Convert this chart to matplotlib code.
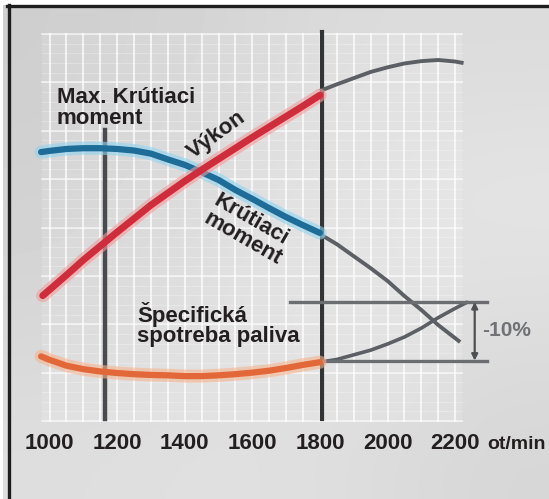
import numpy as np
import matplotlib
matplotlib.use("Agg")
import matplotlib.pyplot as plt
from matplotlib.lines import Line2D
from matplotlib.patches import Rectangle

# otacky (ot/min) a relativne hodnoty (0-100 = vyska mriezky)
rpm_a = [975, 1000, 1050, 1100, 1150, 1200, 1250, 1300, 1350, 1400, 1450,
         1500, 1550, 1600, 1650, 1700, 1750, 1800]
torque = [69.5, 69.8, 70.3, 70.5, 70.5, 70.3, 69.9, 69.1, 67.6, 66.2, 64.3,
          62.3, 59.7, 57.4, 55.0, 52.7, 50.6, 48.6]
power_rpm = [980, 1000, 1050, 1100, 1150, 1200, 1250, 1300, 1350, 1400, 1450,
             1500, 1550, 1600, 1650, 1700, 1750, 1800]
power = [32.4, 33.9, 37.7, 41.6, 45.2, 48.8, 52.3, 55.8, 58.9, 62.0, 64.9,
         67.7, 70.5, 73.3, 76.0, 78.7, 81.4, 84.2]
fuel = [16.7, 15.8, 14.3, 13.4, 12.8, 12.4, 12.1, 11.9, 11.8, 11.6, 11.6,
        11.8, 12.1, 12.5, 13.0, 13.7, 14.5, 15.2]

# pokracovanie nad 1800 ot/min (sive)
torque2_rpm = [1800, 1850, 1900, 1950, 2000, 2050, 2100, 2150, 2215]
torque2 = [48.3, 45.7, 42.6, 39.5, 36.2, 32.3, 28.7, 24.8, 20.4]
power2_rpm = [1800, 1850, 1900, 1950, 2000, 2050, 2100, 2150, 2200, 2225]
power2 = [85.3, 87.0, 88.6, 90.2, 91.4, 92.4, 93.0, 93.3, 92.9, 92.5]
fuel2_rpm = [1800, 1850, 1900, 1950, 2000, 2050, 2100, 2150, 2200, 2238]
fuel2 = [15.2, 15.9, 17.1, 18.3, 19.9, 21.7, 24.0, 26.7, 29.1, 30.8]

fuel_top = 30.75
fuel_bottom = 15.6
max_torque_rpm = 1164
rated_rpm = 1806

tick_values = [1000, 1200, 1400, 1600, 1800, 2000, 2200]
unit = "ot/min"

# skala: px = 49.5 + (rpm-1000)*0.338 ; y = (421-py)/3.87
xmin, xmax = 853.5, 2477.8
ymin, ymax = -20.16, 108.8

fig = plt.figure(figsize=(5.49, 4.99), dpi=100)
fig.patch.set_facecolor("white")
ax = fig.add_axes([0, 0, 1, 1])
ax.set_xlim(xmin, xmax)
ax.set_ylim(ymin, ymax)
ax.axis("off")

# pozadie s jemnym prechodom
bg = np.array([[0.81, 0.83, 0.86, 0.86],
               [0.82, 0.85, 0.88, 0.90],
               [0.84, 0.86, 0.89, 0.87],
               [0.87, 0.88, 0.87, 0.84]])
ax.imshow(bg, cmap="gray", vmin=0, vmax=1, interpolation="bicubic",
          extent=[861, xmax, ymin, 107.5], aspect="auto", zorder=0)

# mriezka
gx0, gx1 = 978, 2220
ax.add_patch(Rectangle((gx0, 0), gx1 - gx0, 100, facecolor="white", alpha=0.12,
                       edgecolor="none", zorder=1))
for xv in np.arange(1000, 2225, 50):
    ax.plot([xv, xv], [0, 100], color="white", lw=1.5, alpha=0.7, zorder=1)
for yv in np.arange(0, 100.1, 2.5):
    ax.plot([gx0, gx1], [yv, yv], color="white", lw=0.8, alpha=0.25, zorder=1)
for yv in np.arange(0, 100.1, 12.5):
    ax.plot([gx0, gx1], [yv, yv], color="white", lw=1.4, alpha=0.55, zorder=1)

# zvisle ciary
ax.plot([max_torque_rpm, max_torque_rpm], [0.5, 75.2], color="#4a4b4e", lw=3.2, zorder=2)
ax.plot([rated_rpm, rated_rpm], [0.5, 100.5], color="#333436", lw=3.0, zorder=2)

# sive pokracovania
gray = "#5c5f63"
ax.plot(torque2_rpm, torque2, color=gray, lw=2.8, solid_capstyle="butt", zorder=3)
ax.plot(power2_rpm, power2, color=gray, lw=2.8, solid_capstyle="butt", zorder=3)
ax.plot(fuel2_rpm, fuel2, color=gray, lw=2.6, solid_capstyle="butt", zorder=3)
ax.plot([1711, 2294], [fuel_top, fuel_top], color="#6b6d70", lw=2.4, zorder=3)
ax.plot([1806, 2294], [fuel_bottom, fuel_bottom], color="#6b6d70", lw=2.4, zorder=3)
ax.annotate("", xy=(2258, fuel_top), xytext=(2258, fuel_bottom),
            arrowprops=dict(arrowstyle="<|-|>", color="#4d4f52", lw=1.6,
                            mutation_scale=9, shrinkA=0, shrinkB=0), zorder=3)
ax.text(2280, 23.5, "-10%", fontsize=15, fontweight="bold", color="#707275",
        family="Liberation Sans", ha="left", va="center")

# farebne krivky
ax.plot(rpm_a, torque, color="#8fd3f0", lw=9.5, alpha=0.6, solid_capstyle="round", zorder=4)
ax.plot(rpm_a, torque, color="#1d6d98", lw=4.5, solid_capstyle="round", zorder=5)
ax.plot(power_rpm, power, color="#f29a9a", lw=9.5, alpha=0.6, solid_capstyle="round", zorder=6)
ax.plot(power_rpm, power, color="#cf2c3c", lw=5, solid_capstyle="round", zorder=7)
ax.plot(rpm_a, fuel, color="#f6b48f", lw=9.5, alpha=0.6, solid_capstyle="round", zorder=4)
ax.plot(rpm_a, fuel, color="#e2683a", lw=4.5, solid_capstyle="round", zorder=5)

# popisy
tc = "#231f20"
kw = dict(fontsize=16, fontweight="bold", color=tc, family="Liberation Sans", zorder=8)
ax.text(1022, 82.3, "Max. Krútiaci", ha="left", va="baseline", **kw)
ax.text(1022, 76.8, "moment", ha="left", va="baseline", **kw)
ax.text(1495, 73.9, "Výkon", ha="center", va="center", rotation=36,
        rotation_mode="anchor", **kw)
ax.text(1596, 51.9, "Krútiaci", ha="center", va="center", rotation=-30,
        rotation_mode="anchor", **kw)
ax.text(1570, 47.0, "moment", ha="center", va="center", rotation=-30,
        rotation_mode="anchor", **kw)
ax.text(1259, 25.6, "Špecifická", ha="left", va="baseline", **kw)
ax.text(1259, 20.4, "spotreba paliva", ha="left", va="baseline", **kw)

for v in tick_values:
    ax.text(v, -7.3, str(v), ha="center", va="baseline", **kw)
ax.text(2294, -7.3, unit, ha="left", va="baseline", fontsize=14,
        fontweight="bold", color=tc, family="Liberation Sans")

# ram
fig.add_artist(Line2D([7 / 549, 1], [1 - 6 / 499, 1 - 6 / 499], color="#1e1e1e",
                      lw=2.4, transform=fig.transFigure))
fig.add_artist(Line2D([8.5 / 549, 8.5 / 549], [0, 1 - 5 / 499], color="#1e1e1e",
                      lw=2.4, transform=fig.transFigure))

fig.savefig("out.png", dpi=100)
